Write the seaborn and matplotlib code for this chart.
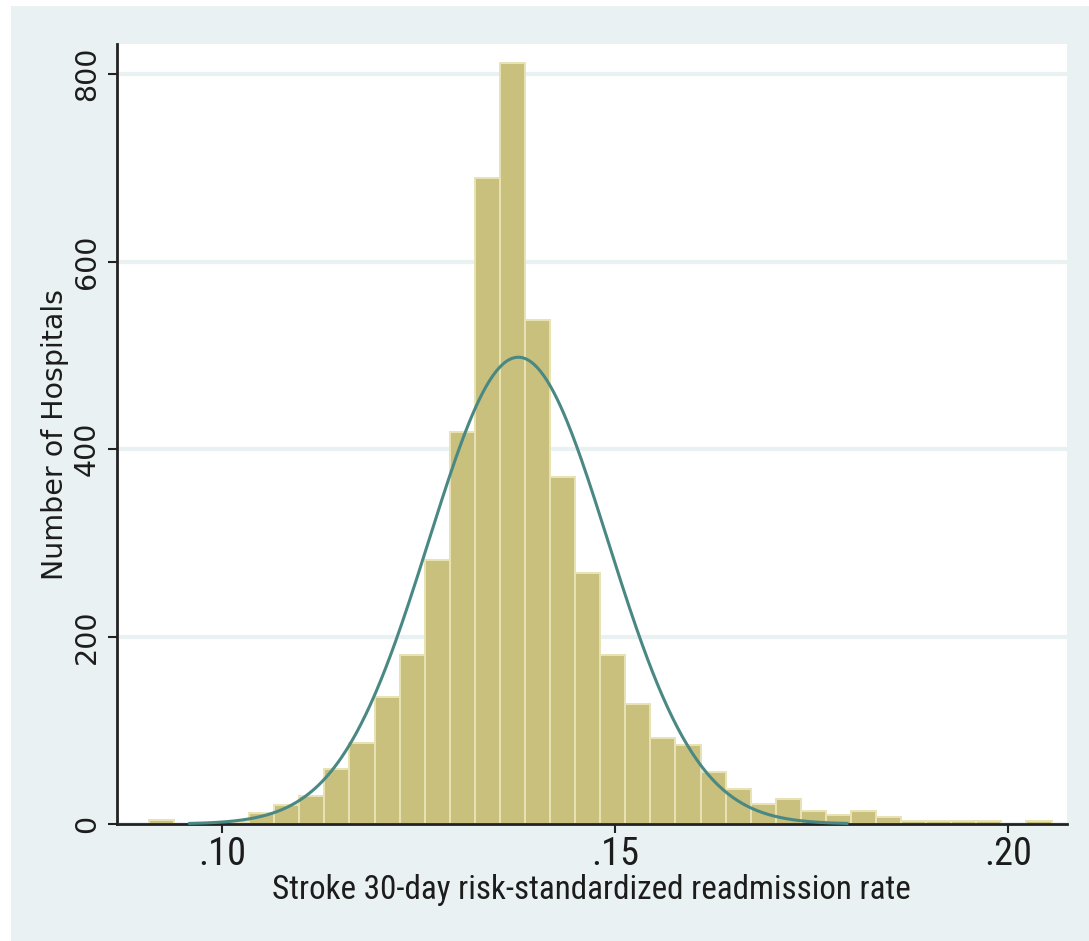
import numpy as np
import pandas as pd
import matplotlib
matplotlib.use("Agg")
import matplotlib.pyplot as plt
import matplotlib.font_manager as fm
from matplotlib.font_manager import FontProperties
from matplotlib.patches import Rectangle
import seaborn as sns

# Histogram of hospital readmission rates: 36 equal-width bins
bin_start = 0.0907
bin_width = 0.00319
hospital_counts = [4, 0, 0, 2, 12, 20, 30, 59, 86, 136,
                   180, 282, 418, 689, 812, 538, 370, 268, 180, 128,
                   92, 84, 55, 37, 21, 27, 14, 10, 14, 7,
                   3, 3, 3, 3, 0, 3]

# Overlaid normal density (frequency scale)
curve_mean = 0.1377
curve_sd = 0.0114
curve_total = 4460
curve_halfspan = 0.0418

x_ticks = [0.10, 0.15, 0.20]
x_tick_labels = [".10", ".15", ".20"]
y_ticks = [0, 200, 400, 600, 800]
y_tick_labels = ["0", "200", "400", "600", "800"]
x_title = "Stroke 30-day risk-standardized readmission rate"
y_title = "Number of Hospitals"

edges = bin_start + bin_width * np.arange(len(hospital_counts) + 1)
bins_df = pd.DataFrame({"rate": (edges[:-1] + edges[1:]) / 2,
                        "hospitals": hospital_counts})

xs = np.linspace(curve_mean - curve_halfspan, curve_mean + curve_halfspan, 400)
ys = curve_total * bin_width / (curve_sd * np.sqrt(2 * np.pi)) * np.exp(-0.5 * ((xs - curve_mean) / curve_sd) ** 2)
curve_df = pd.DataFrame({"rate": xs, "density": ys})


def pick_narrow_font():
    """Return a FontProperties for a narrow sans face if one is installed."""
    wanted = ["Liberation Sans Narrow", "Roboto Condensed", "Open Sans Condensed",
              "Noto Sans Condensed", "DejaVu Sans Condensed"]
    regular = [e for e in fm.fontManager.ttflist
               if e.style == "normal" and e.weight in (400, "normal", "regular")]
    for name in wanted:
        for e in regular:
            if e.name == name:
                return FontProperties(fname=e.fname)
    for e in regular:
        if e.stretch in ("condensed", "semi-condensed") and "Mono" not in e.name \
                and "Serif" not in e.name:
            return FontProperties(fname=e.fname)
    return FontProperties(family="Liberation Sans")


W, H = 1089, 941
fig = plt.figure(figsize=(W / 100, H / 100), dpi=100, facecolor="white")
fig.patches.append(Rectangle((11 / W, 0), 1, 1 - 6 / H, transform=fig.transFigure,
                             facecolor="#e9f1f3", edgecolor="none", zorder=-1))

ax = fig.add_axes([117 / W, (H - 824) / H, (1067 - 117) / W, (824 - 44) / H])
ax.set_facecolor("white")

sns.histplot(data=bins_df, x="rate", weights="hospitals", bins=edges.tolist(),
             stat="count", color="#c8c07c", edgecolor="#e8e2b6", linewidth=1.4,
             alpha=1, ax=ax, zorder=2)
sns.lineplot(data=curve_df, x="rate", y="density", color="#4a8883", linewidth=2.2,
             ax=ax, zorder=4, clip_on=False)

ax.set_xlim(0.086641, 0.207506)
ax.set_ylim(0, 832)

ax.set_axisbelow(True)
ax.yaxis.grid(True, color="#e9f1f3", linewidth=3)
ax.xaxis.grid(False)

for side in ("top", "right"):
    ax.spines[side].set_visible(False)
for side in ("left", "bottom"):
    ax.spines[side].set_color("#222222")
    ax.spines[side].set_linewidth(2.0)
    ax.spines[side].set_zorder(3)

text_color = "#1c1c1c"
narrow = pick_narrow_font()

# x title: size it so it spans the same width as the plotted title line
title_width_px = 640
xlab_prop = narrow.copy()
xlab_prop.set_size(25)
ax.set_xlabel(x_title, fontproperties=xlab_prop, color=text_color)
fig.canvas.draw()
renderer = fig.canvas.get_renderer()
w = ax.xaxis.label.get_window_extent(renderer).width
xlab_size = min(25 * title_width_px / w, 26)
xlab_prop.set_size(xlab_size)
ax.xaxis.label.set_fontproperties(xlab_prop)

xtick_prop = narrow.copy()
xtick_prop.set_size(xlab_size * 1.16)
ax.set_xticks(x_ticks)
ax.set_xticklabels(x_tick_labels, fontproperties=xtick_prop, color=text_color)
ax.set_yticks(y_ticks)
ax.set_yticklabels(y_tick_labels, family="DejaVu Sans", fontsize=20.5,
                   color=text_color, rotation=90, va="center")
ax.tick_params(axis="x", length=6.5, width=1.5, color="#222222", pad=2)
ax.tick_params(axis="y", length=6.5, width=1.5, color="#222222", pad=5)

ax.set_ylabel(y_title, family="DejaVu Sans", fontsize=20.5, color=text_color)
ax.yaxis.set_label_coords(-0.0505, 0.5)

# place the x title directly beneath the tick labels
fig.canvas.draw()
tick_bottom = min(t.get_window_extent(renderer).y0 for t in ax.get_xticklabels())
ax_box = ax.get_window_extent(renderer)
ax.xaxis.set_label_coords(0.499, (tick_bottom - 1 - ax_box.y0) / ax_box.height)

fig.savefig("out.png", dpi=100, facecolor=fig.get_facecolor())
